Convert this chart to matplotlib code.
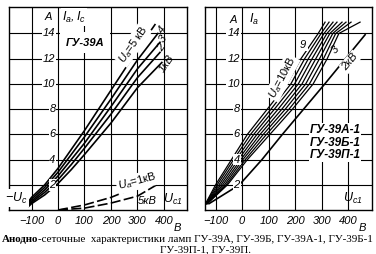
import numpy as np
import matplotlib.pyplot as plt

plt.rcParams['font.family'] = ['Liberation Sans', 'DejaVu Sans']
plt.rcParams['mathtext.fontset'] = 'custom'
plt.rcParams['mathtext.it'] = 'Liberation Sans:italic'
plt.rcParams['mathtext.rm'] = 'Liberation Sans:italic'

# ---------- data: left panel (ГУ-39А), anode current vs grid voltage ----------
uc_left = [-110, -100, -50, 0, 50, 100, 200, 300]
ia_5kv = [0.7, 1.0, 2.0, 3.3, 4.8, 6.3, 9.5, 12.7]
ia_4kv = [0.6, 0.85, 1.8, 3.0, 4.4, 5.8, 8.8, 11.9]
ia_3kv = [0.5, 0.7, 1.6, 2.7, 4.0, 5.3, 8.2, 11.2]
ia_2kv = [0.4, 0.6, 1.4, 2.4, 3.6, 4.9, 7.6, 10.5]
ia_1kv = [0.3, 0.5, 1.2, 2.1, 3.2, 4.4, 6.9, 9.7]
left_end_uc = [366, 377, 385, 385, 392]
left_end_ia = [14.7, 14.0, 13.3, 12.5, 11.7]

# grid current (dashed)
uc_grid = [0, 100, 200, 300, 373]
ic_1kv = [0, 0.4, 1.0, 1.85, 2.6]
ic_5kv = [0, 0.15, 0.55, 1.1, 2.0]

# ---------- data: right panel (ГУ-39А-1), Uc read at fixed Ia levels ----------
ia_levels = [0.5, 2, 4, 6, 8, 10, 12, 14]
uc_10kv = [-138, -100, -40, 20, 95, 170, 222, 287]
uc_9kv = [-137, -94, -32, 32, 109, 184, 236, 298]
uc_8kv = [-136, -87, -23, 44, 122, 198, 250, 309]
uc_7kv = [-135, -80, -14, 56, 136, 212, 264, 320]
uc_6kv = [-134, -73, -5, 68, 150, 226, 278, 331]
uc_5kv = [-133, -66, 3, 80, 163, 240, 292, 342]
uc_4kv = [-132, -60, 12, 92, 177, 254, 307, 353]
uc_3kv = [-131, -55, 20, 105, 190, 268, 321, 365]
right_end_uc = [313, 328, 343, 358, 377, 392, 411, 445]
right_end_ia = [14.9] * 8

ia_2kv_r = [0.5, 2, 4, 6, 8, 10, 12, 13.9]
uc_2kv_r = [-125, -10, 75, 152, 232, 312, 390, 464]

xticks = [-100, 0, 100, 200, 300, 400]
xtick_labels = ['\u2212100', '0', '100', '200', '300', '400']
yticks = [2, 4, 6, 8, 10, 12, 14]

W, H = 376, 254
fig = plt.figure(figsize=(W / 100, H / 100), dpi=100)
FS = 8


def px_axes(x0, x1, y0, y1):
    return fig.add_axes([x0 / W, 1 - y1 / H, (x1 - x0) / W, (y1 - y0) / H])


def setup(ax, xlim, b_at):
    ax.set_xlim(*xlim)
    ax.set_ylim(0, 16.1)
    for s in ax.spines.values():
        s.set_linewidth(1.0)
    ax.set_xticks(xticks)
    ax.set_xticklabels(xtick_labels, fontsize=FS, style='italic')
    ax.tick_params(axis='x', length=0, pad=4)
    ax.set_yticks([])
    for v in xticks:
        ax.axvline(v, color='black', lw=0.8, zorder=1)
    for v in yticks:
        ax.axhline(v, color='black', lw=0.8, zorder=1)
    for v in yticks:
        ax.text(-9, v, str(v), ha='right', va='center', fontsize=FS, style='italic',
                zorder=4, bbox=dict(facecolor='white', edgecolor='none', pad=0.6))
    ax.text(b_at, -1.0, 'В', ha='center', va='top', fontsize=FS, style='italic',
            clip_on=False)


lw = 1.2
white = dict(facecolor='white', edgecolor='none', pad=1.0)

# ---------------- left panel ----------------
ax1 = px_axes(9, 187, 7, 210)
setup(ax1, (-185, 487), 450)
left_curves = [ia_5kv, ia_4kv, ia_3kv, ia_2kv, ia_1kv]
for i, ia in enumerate(left_curves):
    ax1.plot(uc_left + [left_end_uc[i]], ia + [left_end_ia[i]], color='black', lw=lw, zorder=3)
ax1.plot(uc_grid, ic_1kv, color='black', lw=lw, ls=(0, (6, 2)), zorder=3)
ax1.plot(uc_grid, ic_5kv, color='black', lw=lw, ls=(0, (6, 2)), zorder=3)

ax1.text(-38, 15.3, 'A', ha='center', va='center', fontsize=FS, style='italic', zorder=4, bbox=white)
ax1.text(15, 15.3, r'$I_a, I_c$', ha='left', va='center', fontsize=FS + 1, zorder=4, bbox=white)
ax1.text(102, 13.25, 'ГУ-39А', ha='center', va='center', fontsize=FS, style='italic',
         weight='bold', zorder=4, bbox=dict(facecolor='white', edgecolor='none', pad=4))
ax1.text(283, 13.1, r'$U_a$=5 кВ', ha='center', va='center', fontsize=FS, rotation=55,
         zorder=4, bbox=white)
ax1.text(392, 14.3, '4', ha='center', va='center', fontsize=FS, style='italic', rotation=55, zorder=4)
ax1.text(396, 13.6, '3', ha='center', va='center', fontsize=FS, style='italic', rotation=55, zorder=4)
ax1.text(389, 12.9, '2', ha='center', va='center', fontsize=FS, style='italic', rotation=55, zorder=4)
ax1.text(410, 11.6, '1кВ', ha='center', va='center', fontsize=FS, style='italic', rotation=55, zorder=4)
ax1.text(-158, 0.95, r'$-U_c$', ha='center', va='center', fontsize=FS + 1, zorder=4, bbox=white)
ax1.text(298, 2.25, r'$U_a$=1кВ', ha='center', va='center', fontsize=FS, rotation=15,
         zorder=4, bbox=white)
ax1.text(336, 0.7, '5кВ', ha='center', va='center', fontsize=FS, style='italic', zorder=4)
ax1.text(432, 0.85, r'$U_{c1}$', ha='center', va='center', fontsize=FS + 1, zorder=4)

# ---------------- right panel ----------------
ax2 = px_axes(205, 372, 7, 210)
setup(ax2, (-140, 490), 455)
right_curves = [uc_10kv, uc_9kv, uc_8kv, uc_7kv, uc_6kv, uc_5kv, uc_4kv, uc_3kv]
for i, uc in enumerate(right_curves):
    ax2.plot(uc + [right_end_uc[i]], ia_levels + [right_end_ia[i]], color='black', lw=0.9, zorder=3)
ax2.plot(uc_2kv_r, ia_2kv_r, color='black', lw=lw, zorder=3)

ax2.text(-34, 15.1, 'A', ha='center', va='center', fontsize=FS, style='italic', zorder=4, bbox=white)
ax2.text(25, 15.1, r'$I_a$', ha='left', va='center', fontsize=FS + 1, zorder=4, bbox=white)
ax2.text(151, 10.5, r'$U_a$=10кВ', ha='center', va='center', fontsize=FS, rotation=62,
         zorder=4, bbox=white)
ax2.text(230, 13.1, '9', ha='center', va='center', fontsize=FS, style='italic', zorder=4, bbox=white)
ax2.text(351, 12.7, '3', ha='center', va='center', fontsize=FS, style='italic', rotation=50, zorder=4)
ax2.text(408, 11.75, '2кВ', ha='center', va='center', fontsize=FS, style='italic', rotation=50,
         zorder=4, bbox=white)
for k, name in enumerate(['ГУ-39А-1', 'ГУ-39Б-1', 'ГУ-39П-1']):
    ax2.text(351, 6.35 - 1.0 * k, name, ha='center', va='center', fontsize=FS + 0.5, style='italic',
             weight='bold', zorder=4, bbox=dict(facecolor='white', edgecolor='none', pad=0.5))
ax2.text(419, 0.95, r'$U_{c1}$', ha='center', va='center', fontsize=FS + 1, zorder=4)

# ---------------- caption ----------------
cap_fs = 7.9
t1 = fig.text(2 / W, 1 - 240 / H, 'Анодно', ha='left', va='center', fontsize=cap_fs,
              family='Liberation Serif', weight='bold')
fig.canvas.draw()
x_end = t1.get_window_extent().x1 / W
fig.text(x_end, 1 - 240 / H, '-сеточные  характеристики ламп ГУ-39А, ГУ-39Б, ГУ-39А-1, ГУ-39Б-1',
         ha='left', va='center', fontsize=cap_fs, family='Liberation Serif')
fig.text(205 / W, 1 - 250 / H, 'ГУ-39П-1, ГУ-39П.', ha='center', va='center', fontsize=cap_fs,
         family='Liberation Serif')

fig.savefig('out.png', dpi=100, facecolor='white')
